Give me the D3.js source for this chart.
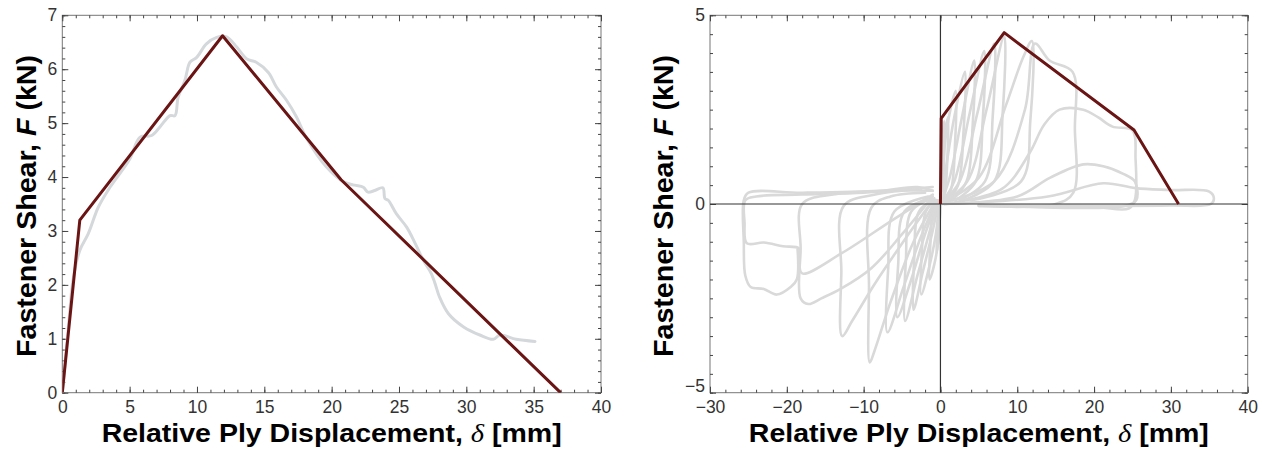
<!DOCTYPE html>
<html><head><meta charset="utf-8">
<script src="https://cdn.jsdelivr.net/npm/d3@7"></script>
<style>body{margin:0;background:#fff}svg{display:block}</style>
</head><body><svg id="c" width="1270" height="450"></svg>
<script>
// ---------- Left panel data ----------
const leftXTicks = [0,5,10,15,20,25,30,35,40];
const leftYTicks = [0,1,2,3,4,5,6,7];
const leftModel = [[0,0],[1.3,3.2],[11.9,6.62],[20.7,3.95],[37.0,0]];
const leftTest = [[0,0],[0.3,0.8],[0.55,1.5],[0.8,2.1],[1.3,2.64],[1.93,2.95],[2.67,3.44],[3.54,3.81],[5.0,4.33],[5.77,4.74],[6.63,4.77],[7.25,4.93],[8.0,5.14],[8.37,5.14],[8.6,5.48],[9.1,5.79],[9.48,6.13],[9.98,6.22],[10.7,6.47],[11.46,6.59],[12.2,6.6],[12.95,6.41],[13.7,6.19],[14.4,6.13],[15.3,5.94],[15.9,5.67],[16.66,5.42],[17.4,5.11],[18.1,4.74],[19.6,4.19],[20.9,3.91],[21.7,3.85],[22.35,3.81],[22.7,3.72],[23.2,3.75],[23.8,3.8],[23.96,3.6],[24.2,3.57],[24.8,3.32],[25.57,3.07],[26.2,2.77],[26.8,2.46],[27.4,2.21],[27.67,2.03],[28.0,1.78],[28.66,1.47],[29.8,1.22],[31.0,1.07],[32.0,0.99],[32.5,1.07],[33.7,0.99],[35.1,0.95]];

// ---------- Right panel data ----------
const rightXTicks = [-30,-20,-10,0,10,20,30,40];
const rightYTicks = [-5,0,5];
const rightModel = [[0,0],[0.1,2.27],[8.3,4.54],[25.2,1.96],[31.0,0]];
const posCycles = [
  [[0,0],[0.1,1.0],[0.3,1.8],[0.5,2.2],[0.45,1.0],[0.3,0.2],[0,0]],
  [[0,0],[0.2,1.0],[0.5,1.8],[1.0,2.3],[0.9,1.2],[0.6,0.3],[0.2,0.0]],
  [[0,0],[0.3,1.0],[1.0,2.2],[2.0,3.0],[1.9,1.6],[1.4,0.4],[0.5,0.05]],
  [[0,0.05],[0.6,0.8],[1.8,2.3],[3.2,3.5],[3.0,1.9],[2.3,0.5],[1.0,0.1]],
  [[0.1,0.05],[1.2,0.7],[2.8,2.3],[4.4,3.8],[4.2,2.1],[3.4,0.6],[1.5,0.1]],
  [[0.2,0.05],[1.8,0.6],[3.8,2.4],[5.7,4.05],[5.5,2.2],[4.6,0.6],[2.0,0.1]],
  [[0.3,0.05],[2.5,0.6],[4.8,2.4],[7.0,4.25],[6.8,2.3],[5.8,0.6],[2.5,0.1]],
  [[0.4,0.05],[3.5,0.6],[6.0,2.5],[8.3,4.45],[8.1,2.4],[7.0,0.6],[3.0,0.1]],
  [[0.5,0.05],[5.0,0.7],[8.5,2.6],[10.8,3.9],[11.9,4.32],[11.7,2.2],[10.5,0.6],[4.0,0.1]],
  [[0.5,0.05],[7,0.6],[11,2.5],[12.3,4.25],[14.2,3.8],[17.2,3.5],[17.5,2.0],[17.3,0.3],[15,0.0],[5,-0.05]],
  [[0.5,0],[8,0.4],[11.6,1.35],[13.5,2.1],[15.5,2.5],[18.6,2.5],[20.5,2.3],[22.4,2.05],[25.0,1.95],[25.4,1.2],[25.3,0.1],[24.5,-0.12],[20,-0.08],[5,-0.05]],
  [[0.5,0],[10,0.2],[14.3,0.7],[18.6,1.05],[21.2,1.0],[23.8,0.8],[25.3,0.6],[25.5,0.1],[24,-0.05],[5,-0.03]],
  [[0.5,0],[14,0.2],[21.2,0.55],[25.4,0.42],[29.9,0.37],[35.0,0.33],[35.6,0.15],[35.2,0.0],[30,-0.04],[20,-0.05],[5,-0.03]]
];
const negCycles = [
  [[0,0],[-0.2,-0.8],[-0.5,-1.3],[-0.4,-0.6],[-0.2,-0.1],[0,0]],
  [[0,0.05],[-0.3,-1.0],[-0.8,-1.6],[-1.4,-2.0],[-1.3,-1.0],[-1.0,-0.2],[-0.3,0.05]],
  [[-0.1,0.1],[-0.6,-0.8],[-1.5,-1.7],[-2.5,-2.4],[-2.4,-1.2],[-1.9,-0.2],[-0.6,0.1]],
  [[-0.2,0.1],[-1.0,-0.7],[-2.3,-1.8],[-3.5,-2.8],[-3.4,-1.4],[-2.8,-0.2],[-0.9,0.1]],
  [[-0.3,0.1],[-1.5,-0.8],[-3.0,-1.9],[-4.6,-3.1],[-4.5,-1.5],[-3.8,-0.2],[-1.1,0.15]],
  [[-0.4,0.1],[-2.0,-0.8],[-3.8,-2.0],[-5.6,-3.0],[-5.5,-1.6],[-4.7,-0.2],[-1.3,0.15]],
  [[-0.5,0.1],[-2.6,-0.9],[-4.8,-2.2],[-6.9,-3.4],[-6.8,-1.7],[-6.0,-0.2],[-1.6,0.2]],
  [[-0.6,0.1],[-3.5,-1.0],[-6.5,-2.6],[-8.6,-3.9],[-9.2,-4.2],[-9.3,-2.2],[-9.0,-0.1],[-6.5,0.2],[-2,0.3]],
  [[-0.8,0.15],[-4.5,-0.9],[-8.5,-2.1],[-11.5,-3.1],[-12.8,-3.5],[-12.9,-1.8],[-12.6,-0.05],[-8.5,0.25],[-2.5,0.4]],
  [[-1,0.2],[-5,-0.8],[-9,-1.7],[-13,-2.25],[-15.5,-2.5],[-17.2,-2.65],[-18.2,-2.5],[-18.2,-1.2],[-18.0,0.0],[-14,0.25],[-6,0.35],[-1,0.35]],
  [[-1,0.25],[-6.2,-0.42],[-12.9,-1.31],[-18.0,-1.84],[-18.4,-1.5],[-18.4,-1.18],[-20.5,-1.12],[-23,-1.02],[-25.2,-1.04],[-25.5,-0.5],[-25.4,0.1],[-24,0.2],[-18,0.25],[-10,0.3],[-4,0.4],[-1,0.45]],
  [[-1,0.35],[-3,0.45],[-8,0.35],[-18,0.3],[-25.0,0.3],[-25.6,0.1],[-25.6,-1.0],[-25.4,-1.9],[-24.7,-2.2],[-23,-2.25],[-21.3,-2.4],[-19.5,-2.2],[-18.7,-2.0],[-18.6,-1.2]]
];

const svg = d3.select("#c");
const plotTop = 15.3, plotBottom = 392.7;

function panel(cfg){
  const g = svg.append("g");
  const x = d3.scaleLinear().domain(cfg.xDomain).range([cfg.x0, cfg.x1]);
  const y = d3.scaleLinear().domain(cfg.yDomain).range([plotBottom, plotTop]);
  const fmt = d3.format("d");

  g.append("rect").attr("x", cfg.x0).attr("y", plotTop).attr("width", cfg.x1 - cfg.x0).attr("height", plotBottom - plotTop)
    .attr("fill", "none").attr("stroke", "#777").attr("stroke-width", 1);

  const tickStyle = sel => { sel.select(".domain").remove(); sel.selectAll("line").attr("stroke", "#444").attr("stroke-width", 1); };
  const labelStyle = sel => sel.selectAll("text").attr("fill", "#333").attr("font-family", "Liberation Sans, Arial, sans-serif").attr("font-size", 17.5);

  g.append("g").attr("transform", `translate(0,${plotBottom})`).call(d3.axisBottom(x).tickValues(cfg.xMinor).tickSize(-3).tickFormat("")).call(tickStyle);
  g.append("g").attr("transform", `translate(0,${plotTop})`).call(d3.axisTop(x).tickValues(cfg.xMinor).tickSize(-3).tickFormat("")).call(tickStyle);
  g.append("g").attr("transform", `translate(${cfg.x0},0)`).call(d3.axisLeft(y).tickValues(cfg.yMinor).tickSize(-3).tickFormat("")).call(tickStyle);
  g.append("g").attr("transform", `translate(${cfg.x1},0)`).call(d3.axisRight(y).tickValues(cfg.yMinor).tickSize(-3).tickFormat("")).call(tickStyle);
  g.append("g").attr("transform", `translate(0,${plotBottom})`).call(d3.axisBottom(x).tickValues(cfg.xTicks).tickSize(-6).tickPadding(8).tickFormat(fmt)).call(tickStyle).call(labelStyle);
  g.append("g").attr("transform", `translate(0,${plotTop})`).call(d3.axisTop(x).tickValues(cfg.xTicks).tickSize(-6).tickFormat("")).call(tickStyle);
  const yAx = g.append("g").attr("transform", `translate(${cfg.x0},0)`).call(d3.axisLeft(y).tickValues(cfg.yTicks).tickSize(-6).tickPadding(5).tickFormat(fmt)).call(tickStyle).call(labelStyle);
  // lowest label of the signed axis sits a little above its tick, as in the reference
  yAx.selectAll(".tick text").filter(d => d === cfg.yDomain[0] && cfg.xDomain[0] < 0).attr("dy", "-0.05em");
  g.append("g").attr("transform", `translate(${cfg.x1},0)`).call(d3.axisRight(y).tickValues(cfg.yTicks).tickSize(-6).tickFormat("")).call(tickStyle);

  const line = d3.line().x(d => x(d[0])).y(d => y(d[1])).curve(d3.curveCatmullRom.alpha(0.5));
  const lineStraight = d3.line().x(d => x(d[0])).y(d => y(d[1]));

  const clip = "clip" + cfg.id;
  g.append("clipPath").attr("id", clip).append("rect").attr("x", cfg.x0).attr("y", plotTop).attr("width", cfg.x1 - cfg.x0).attr("height", plotBottom - plotTop);
  const plot = g.append("g").attr("clip-path", `url(#${clip})`);

  plot.selectAll("path.test").data(cfg.tests).join("path").attr("class", "test")
    .attr("d", line).attr("fill", "none").attr("stroke", cfg.testColor).attr("stroke-width", cfg.testWidth)
    .attr("stroke-linejoin", "round").attr("stroke-linecap", "round");

  if (cfg.zeroLines) {
    plot.append("line").attr("x1", x(0)).attr("x2", x(0)).attr("y1", plotTop).attr("y2", plotBottom).attr("stroke", "#333").attr("stroke-width", 1.2);
    plot.append("line").attr("x1", cfg.x0).attr("x2", cfg.x1).attr("y1", y(0)).attr("y2", y(0)).attr("stroke", "#333").attr("stroke-width", 1.2);
  }

  plot.append("path").datum(cfg.model).attr("d", lineStraight).attr("fill", "none")
    .attr("stroke", "#6b1414").attr("stroke-width", 3).attr("stroke-linejoin", "round");

  const cx = (cfg.x0 + cfg.x1) / 2;
  const xt = g.append("text").attr("x", cx).attr("y", 442).attr("text-anchor", "middle")
    .attr("textLength", 460).attr("lengthAdjust", "spacingAndGlyphs")
    .attr("font-family", "Liberation Sans, Arial, sans-serif").attr("font-weight", "bold").attr("font-size", 26).attr("fill", "#000");
  xt.append("tspan").text("Relative Ply Displacement, ");
  xt.append("tspan").attr("font-family", "Liberation Serif, Times New Roman, serif").attr("font-style", "italic").attr("font-weight", "normal").text("δ");
  xt.append("tspan").text(" [mm]");

  const yt = g.append("text").attr("transform", `translate(${cfg.ytX},206) rotate(-90)`).attr("text-anchor", "middle")
    .attr("textLength", 302).attr("lengthAdjust", "spacingAndGlyphs")
    .attr("font-family", "Liberation Sans, Arial, sans-serif").attr("font-weight", "bold").attr("font-size", 27).attr("fill", "#000");
  yt.append("tspan").text("Fastener Shear, ");
  yt.append("tspan").attr("font-style", "italic").text("F");
  yt.append("tspan").text(" (kN)");
}

panel({
  id: "L", x0: 62.3, x1: 601, xDomain: [0, 40], yDomain: [0, 7],
  xTicks: leftXTicks, yTicks: leftYTicks,
  xMinor: d3.range(0, 40.01, 1), yMinor: d3.range(0, 7.01, 0.2),
  tests: [leftTest], testColor: "#d4d8db", testWidth: 3,
  model: leftModel, zeroLines: false, ytX: 36
});

panel({
  id: "R", x0: 710, x1: 1247.7, xDomain: [-30, 40], yDomain: [-5, 5],
  xTicks: rightXTicks, yTicks: rightYTicks,
  xMinor: d3.range(-30, 40.01, 2), yMinor: d3.range(-5, 5.01, 0.5),
  tests: posCycles.concat(negCycles), testColor: "#d9d9d9", testWidth: 2.6,
  model: rightModel, zeroLines: true, ytX: 673
});
</script>
</body></html>
